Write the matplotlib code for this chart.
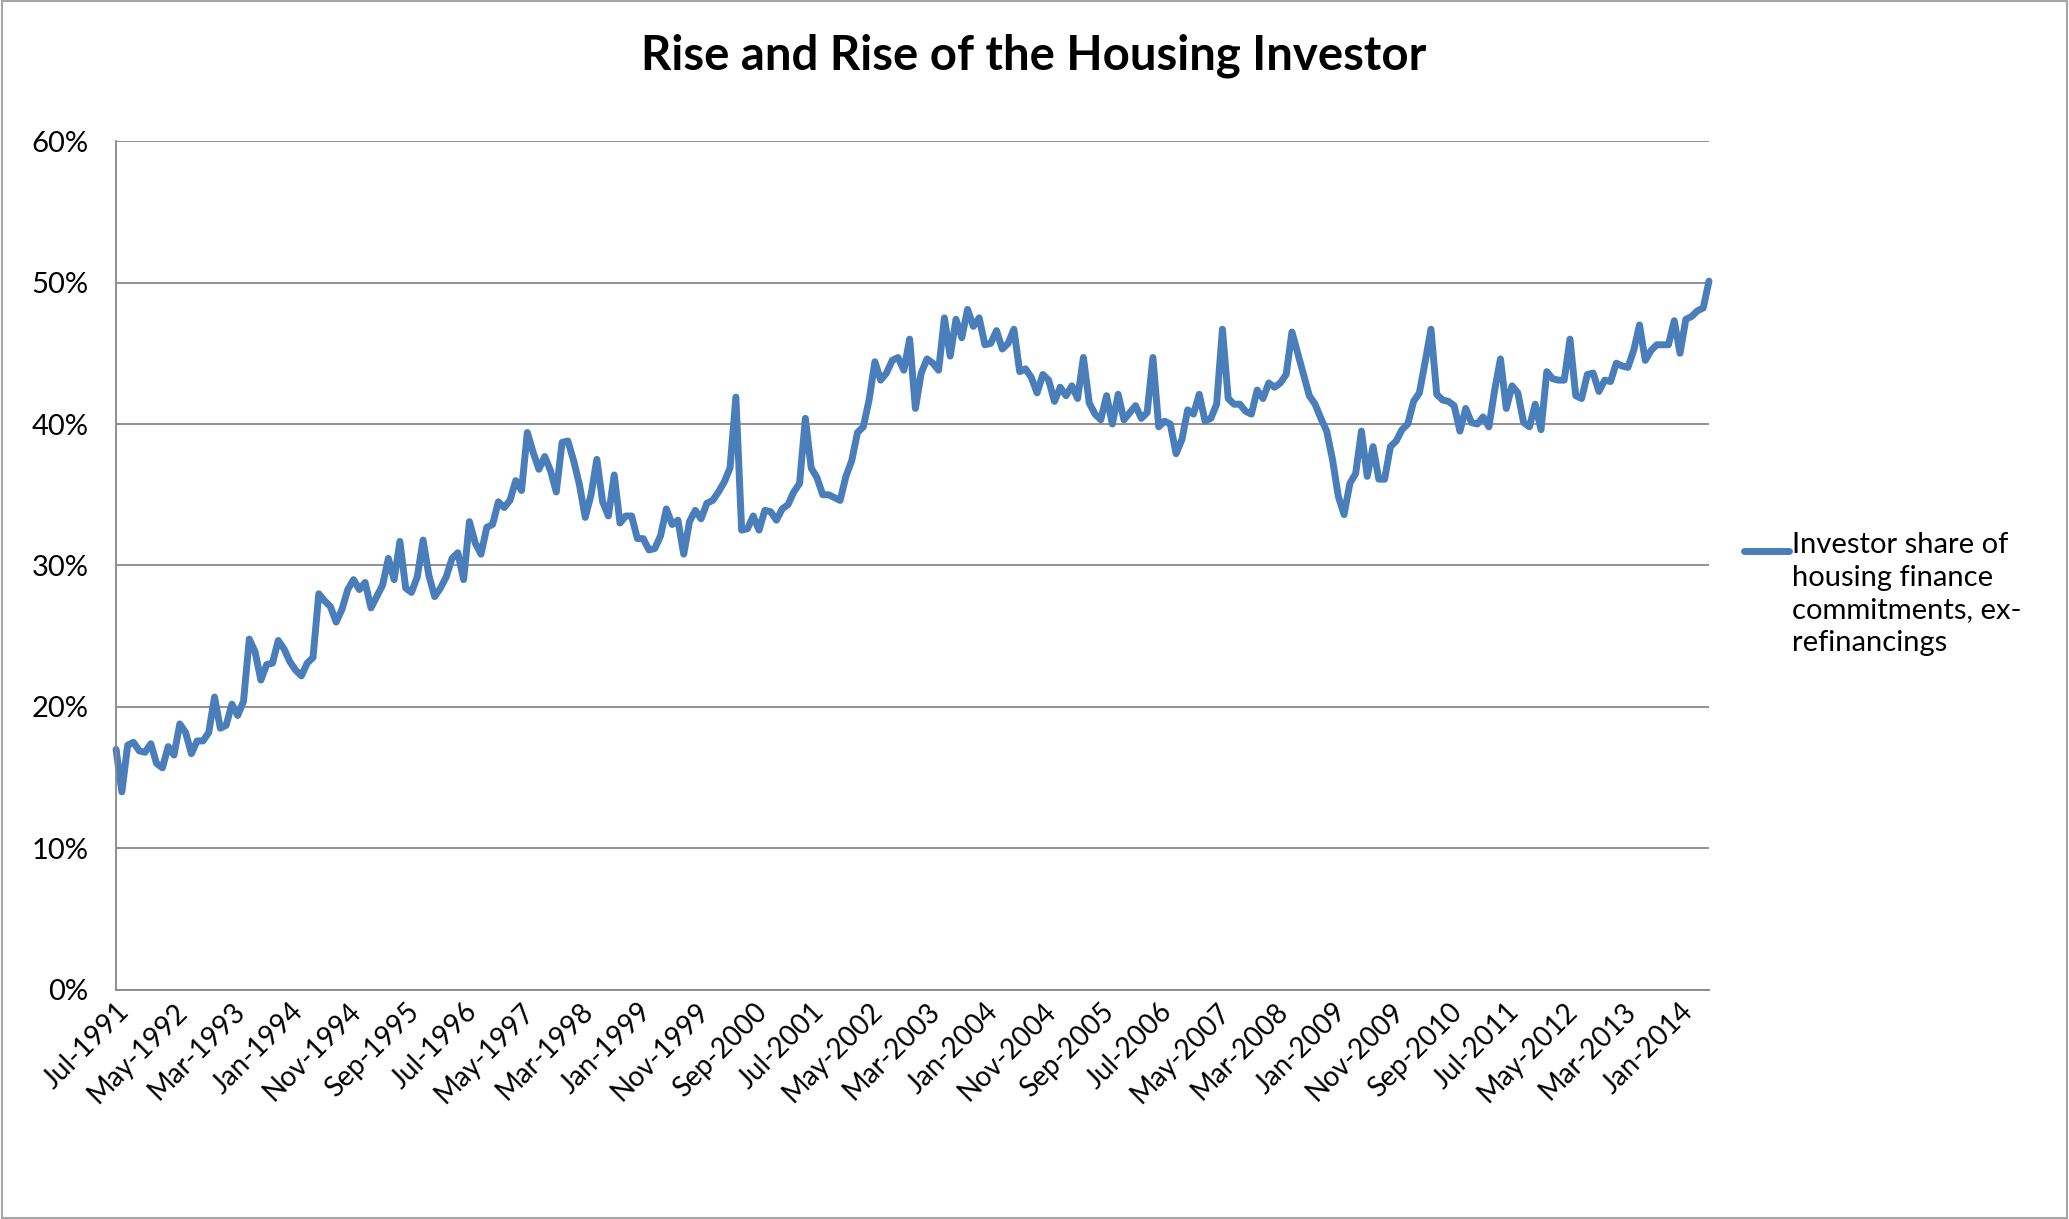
import numpy as np
import pandas as pd
import matplotlib
matplotlib.use("Agg")
import matplotlib.pyplot as plt
from matplotlib.lines import Line2D
from matplotlib.patches import Rectangle
from matplotlib.ticker import FuncFormatter, FixedLocator

plt.rcParams["font.family"] = ["Lato", "DejaVu Sans"]

# monthly series, Jul-1991 onward (percent)
START_MONTH = "1991-07-01"
investor_share = [
    17.0, 14.0, 17.3, 17.5, 16.9, 16.8, 17.4, 16.0, 15.7, 17.2,
    16.6, 18.8, 18.2, 16.7, 17.6, 17.6, 18.2, 20.7, 18.5, 18.7,
    20.2, 19.4, 20.4, 24.8, 23.9, 21.9, 23.0, 23.1, 24.7, 24.1,
    23.2, 22.6, 22.2, 23.1, 23.5, 28.0, 27.5, 27.1, 26.0, 26.9,
    28.3, 29.0, 28.3, 28.8, 27.0, 27.8, 28.6, 30.5, 29.0, 31.7,
    28.4, 28.1, 29.2, 31.8, 29.3, 27.8, 28.4, 29.2, 30.5, 30.9,
    29.0, 33.1, 31.6, 30.8, 32.7, 32.9, 34.5, 34.1, 34.6, 36.0,
    35.3, 39.4, 38.0, 36.8, 37.7, 36.7, 35.2, 38.7, 38.8, 37.4,
    35.7, 33.4, 35.0, 37.5, 34.5, 33.5, 36.4, 33.0, 33.5, 33.5,
    31.9, 31.9, 31.1, 31.2, 32.1, 34.0, 32.9, 33.2, 30.8, 33.1,
    33.9, 33.3, 34.4, 34.6, 35.2, 35.9, 36.9, 41.9, 32.5, 32.6,
    33.5, 32.5, 33.9, 33.8, 33.2, 34.0, 34.3, 35.2, 35.8, 40.4,
    36.9, 36.2, 35.0, 35.0, 34.8, 34.6, 36.3, 37.4, 39.4, 39.8,
    41.7, 44.4, 43.1, 43.6, 44.5, 44.7, 43.8, 46.0, 41.1, 43.6,
    44.6, 44.3, 43.8, 47.5, 44.8, 47.4, 46.1, 48.1, 46.9, 47.5,
    45.6, 45.7, 46.6, 45.3, 45.7, 46.7, 43.7, 43.9, 43.3, 42.2,
    43.5, 43.1, 41.6, 42.6, 42.0, 42.7, 41.8, 44.7, 41.5, 40.7,
    40.3, 42.0, 40.0, 42.1, 40.3, 40.8, 41.3, 40.4, 40.8, 44.7,
    39.8, 40.2, 40.0, 37.9, 38.9, 41.0, 40.7, 42.1, 40.2, 40.4,
    41.4, 46.7, 41.8, 41.4, 41.4, 40.9, 40.7, 42.4, 41.8, 42.9,
    42.6, 42.9, 43.5, 46.5, 45.0, 43.5, 42.0, 41.4, 40.4, 39.5,
    37.5, 34.9, 33.6, 35.8, 36.5, 39.5, 36.3, 38.4, 36.1, 36.1,
    38.4, 38.8, 39.6, 40.0, 41.6, 42.2, 44.4, 46.7, 42.1, 41.7,
    41.6, 41.3, 39.5, 41.1, 40.1, 40.0, 40.5, 39.8, 42.4, 44.6,
    41.1, 42.7, 42.2, 40.1, 39.8, 41.4, 39.6, 43.7, 43.2, 43.1,
    43.1, 46.0, 42.0, 41.8, 43.5, 43.6, 42.3, 43.1, 43.0, 44.3,
    44.1, 44.0, 45.2, 47.0, 44.5, 45.2, 45.6, 45.6, 45.6, 47.3,
    45.0, 47.4, 47.6, 48.0, 48.2, 50.1,
]
series_label = "Investor share of\nhousing finance\ncommitments, ex-\nrefinancings"
chart_title = "Rise and Rise of the Housing Investor"
y_ticks = [0, 10, 20, 30, 40, 50, 60]

LINE_COLOR = "#4A7EBB"
GRID_COLOR = "#888888"


def main() -> None:
    months = pd.date_range(START_MONTH, periods=len(investor_share), freq="MS")
    idx = np.arange(len(investor_share))

    fig = plt.figure(figsize=(20.69, 12.19), dpi=100)
    ax = fig.add_axes([0.0561, 0.1879, 0.826 - 0.0561, 0.8843 - 0.1879])

    ax.plot(idx, investor_share, color=LINE_COLOR, linewidth=5.0,
            solid_joinstyle="round", solid_capstyle="round", clip_on=False)

    ax.set_xlim(0, len(investor_share) - 1)
    ax.set_ylim(0, 60)
    ax.yaxis.set_major_locator(FixedLocator(y_ticks))
    ax.yaxis.set_major_formatter(FuncFormatter(lambda v, _: f"{v:.0f}%"))
    ax.grid(axis="y", color=GRID_COLOR, linewidth=1.3)
    ax.set_axisbelow(True)

    tick_pos = idx[::10]
    ax.set_xticks(tick_pos)
    ax.set_xticklabels([months[i].strftime("%b-%Y") for i in tick_pos],
                       rotation=45, ha="right", va="top",
                       rotation_mode="anchor")

    for side in ["top", "right"]:
        ax.spines[side].set_visible(False)
    for side in ["left", "bottom"]:
        ax.spines[side].set_color(GRID_COLOR)
        ax.spines[side].set_linewidth(1.3)
    ax.tick_params(axis="y", length=0, pad=20, labelsize=21)
    ax.tick_params(axis="x", length=0, pad=6, labelsize=20)

    fig.text(0.4995, 0.9545, chart_title, ha="center", va="center",
             fontsize=34, fontweight="bold")

    # legend drawn by hand so the key sits beside the first line
    fig.add_artist(Line2D([1744 / 2069, 1789 / 2069], [1 - 551 / 1219, 1 - 551 / 1219],
                          color=LINE_COLOR, linewidth=5.0, solid_capstyle="round",
                          transform=fig.transFigure))
    fig.text(1792 / 2069, 1 - 532 / 1219, series_label, ha="left", va="top",
             fontsize=21, linespacing=1.32)

    fig.add_artist(Rectangle((0.0008, 0.0008), 0.9984, 0.9984, fill=False,
                             edgecolor="#A6A6A6", linewidth=1.5,
                             transform=fig.transFigure))

    fig.savefig("out.png", dpi=100)
    plt.close(fig)


if __name__ == "__main__":
    main()
